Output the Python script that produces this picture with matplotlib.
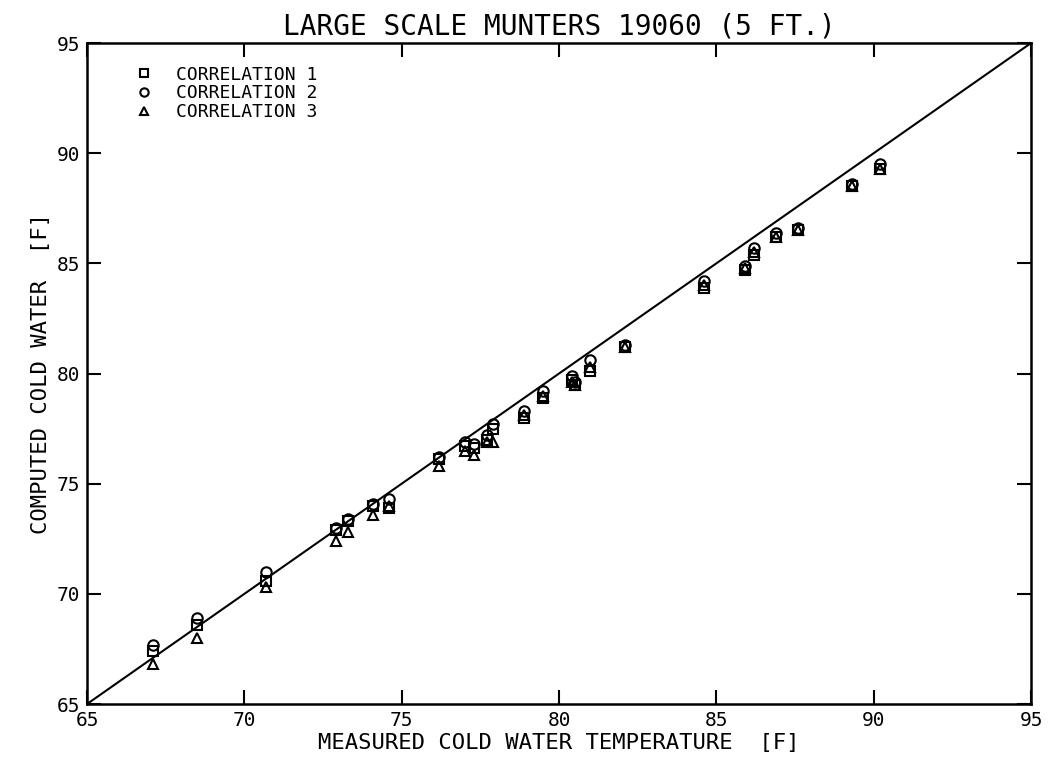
import matplotlib
matplotlib.use('Agg')
import matplotlib.pyplot as plt
import numpy as np

plt.rcParams['font.family'] = ['DejaVu Sans Mono', 'DejaVu Sans']

# measured cold water temperature [F]
measured = [67.1, 68.5, 70.7, 72.9, 73.3, 74.1, 74.6, 76.2, 77.0, 77.3, 77.7,
            77.9, 78.9, 79.5, 80.4, 80.5, 81.0, 82.1, 84.6, 85.9, 86.2, 86.9,
            87.6, 89.3, 90.2]

# computed cold water temperature [F], one list per correlation
corr1 = [67.4, 68.6, 70.6, 72.9, 73.3, 74.0, 73.9, 76.1, 76.7, 76.6, 77.0,
         77.5, 78.0, 78.9, 79.7, 79.5, 80.1, 81.2, 83.9, 84.7, 85.4, 86.2,
         86.5, 88.5, 89.3]
corr2 = [67.7, 68.9, 71.0, 73.0, 73.4, 74.1, 74.3, 76.2, 76.9, 76.8, 77.2,
         77.7, 78.3, 79.2, 79.9, 79.6, 80.6, 81.3, 84.2, 84.9, 85.7, 86.4,
         86.6, 88.6, 89.5]
corr3 = [66.8, 68.0, 70.3, 72.4, 72.8, 73.6, 74.0, 75.8, 76.5, 76.3, 76.9,
         76.9, 78.1, 79.0, 79.6, 79.5, 80.3, 81.2, 84.0, 84.8, 85.5, 86.2,
         86.5, 88.5, 89.3]

series_labels = ['CORRELATION 1', 'CORRELATION 2', 'CORRELATION 3']
tick_values = [65, 70, 75, 80, 85, 90, 95]

fig = plt.figure(figsize=(10.51, 7.63), dpi=100)
ax = fig.add_axes([0.0828, 0.0773, 0.8982, 0.8663])

# line of perfect agreement
ax.plot([65, 95], [65, 95], color='black', lw=1.5, zorder=1)

marker_style = dict(ls='None', mfc='none', mec='black', mew=1.5, ms=7.5, zorder=2)
ax.plot(measured, corr1, marker='s', label=series_labels[0], **marker_style)
ax.plot(measured, corr2, marker='o', label=series_labels[1], **marker_style)
ax.plot(measured, corr3, marker='^', label=series_labels[2], **marker_style)

ax.set_xlim(65, 95)
ax.set_ylim(65, 95)
ax.set_xticks(tick_values)
ax.set_yticks(tick_values)
ax.tick_params(direction='in', length=10, width=1.5, labelsize=14,
               top=True, right=True)
ax.tick_params(axis='x', pad=5)
ax.tick_params(axis='y', pad=5)
for spine in ax.spines.values():
    spine.set_linewidth(1.8)

ax.set_xlabel('MEASURED COLD WATER TEMPERATURE  [F]', fontsize=16, labelpad=2)
ax.set_ylabel('COMPUTED COLD WATER  [F]', fontsize=16, labelpad=4)
ax.set_title('LARGE SCALE MUNTERS 19060 (5 FT.)', fontsize=20, pad=6)

leg = ax.legend(loc='upper left', bbox_to_anchor=(0.037, 0.985), frameon=False,
                fontsize=13, handletextpad=1.3, labelspacing=0.05,
                markerscale=0.8, handlelength=1.0, borderpad=0.2)

fig.savefig('out.png', dpi=100)
